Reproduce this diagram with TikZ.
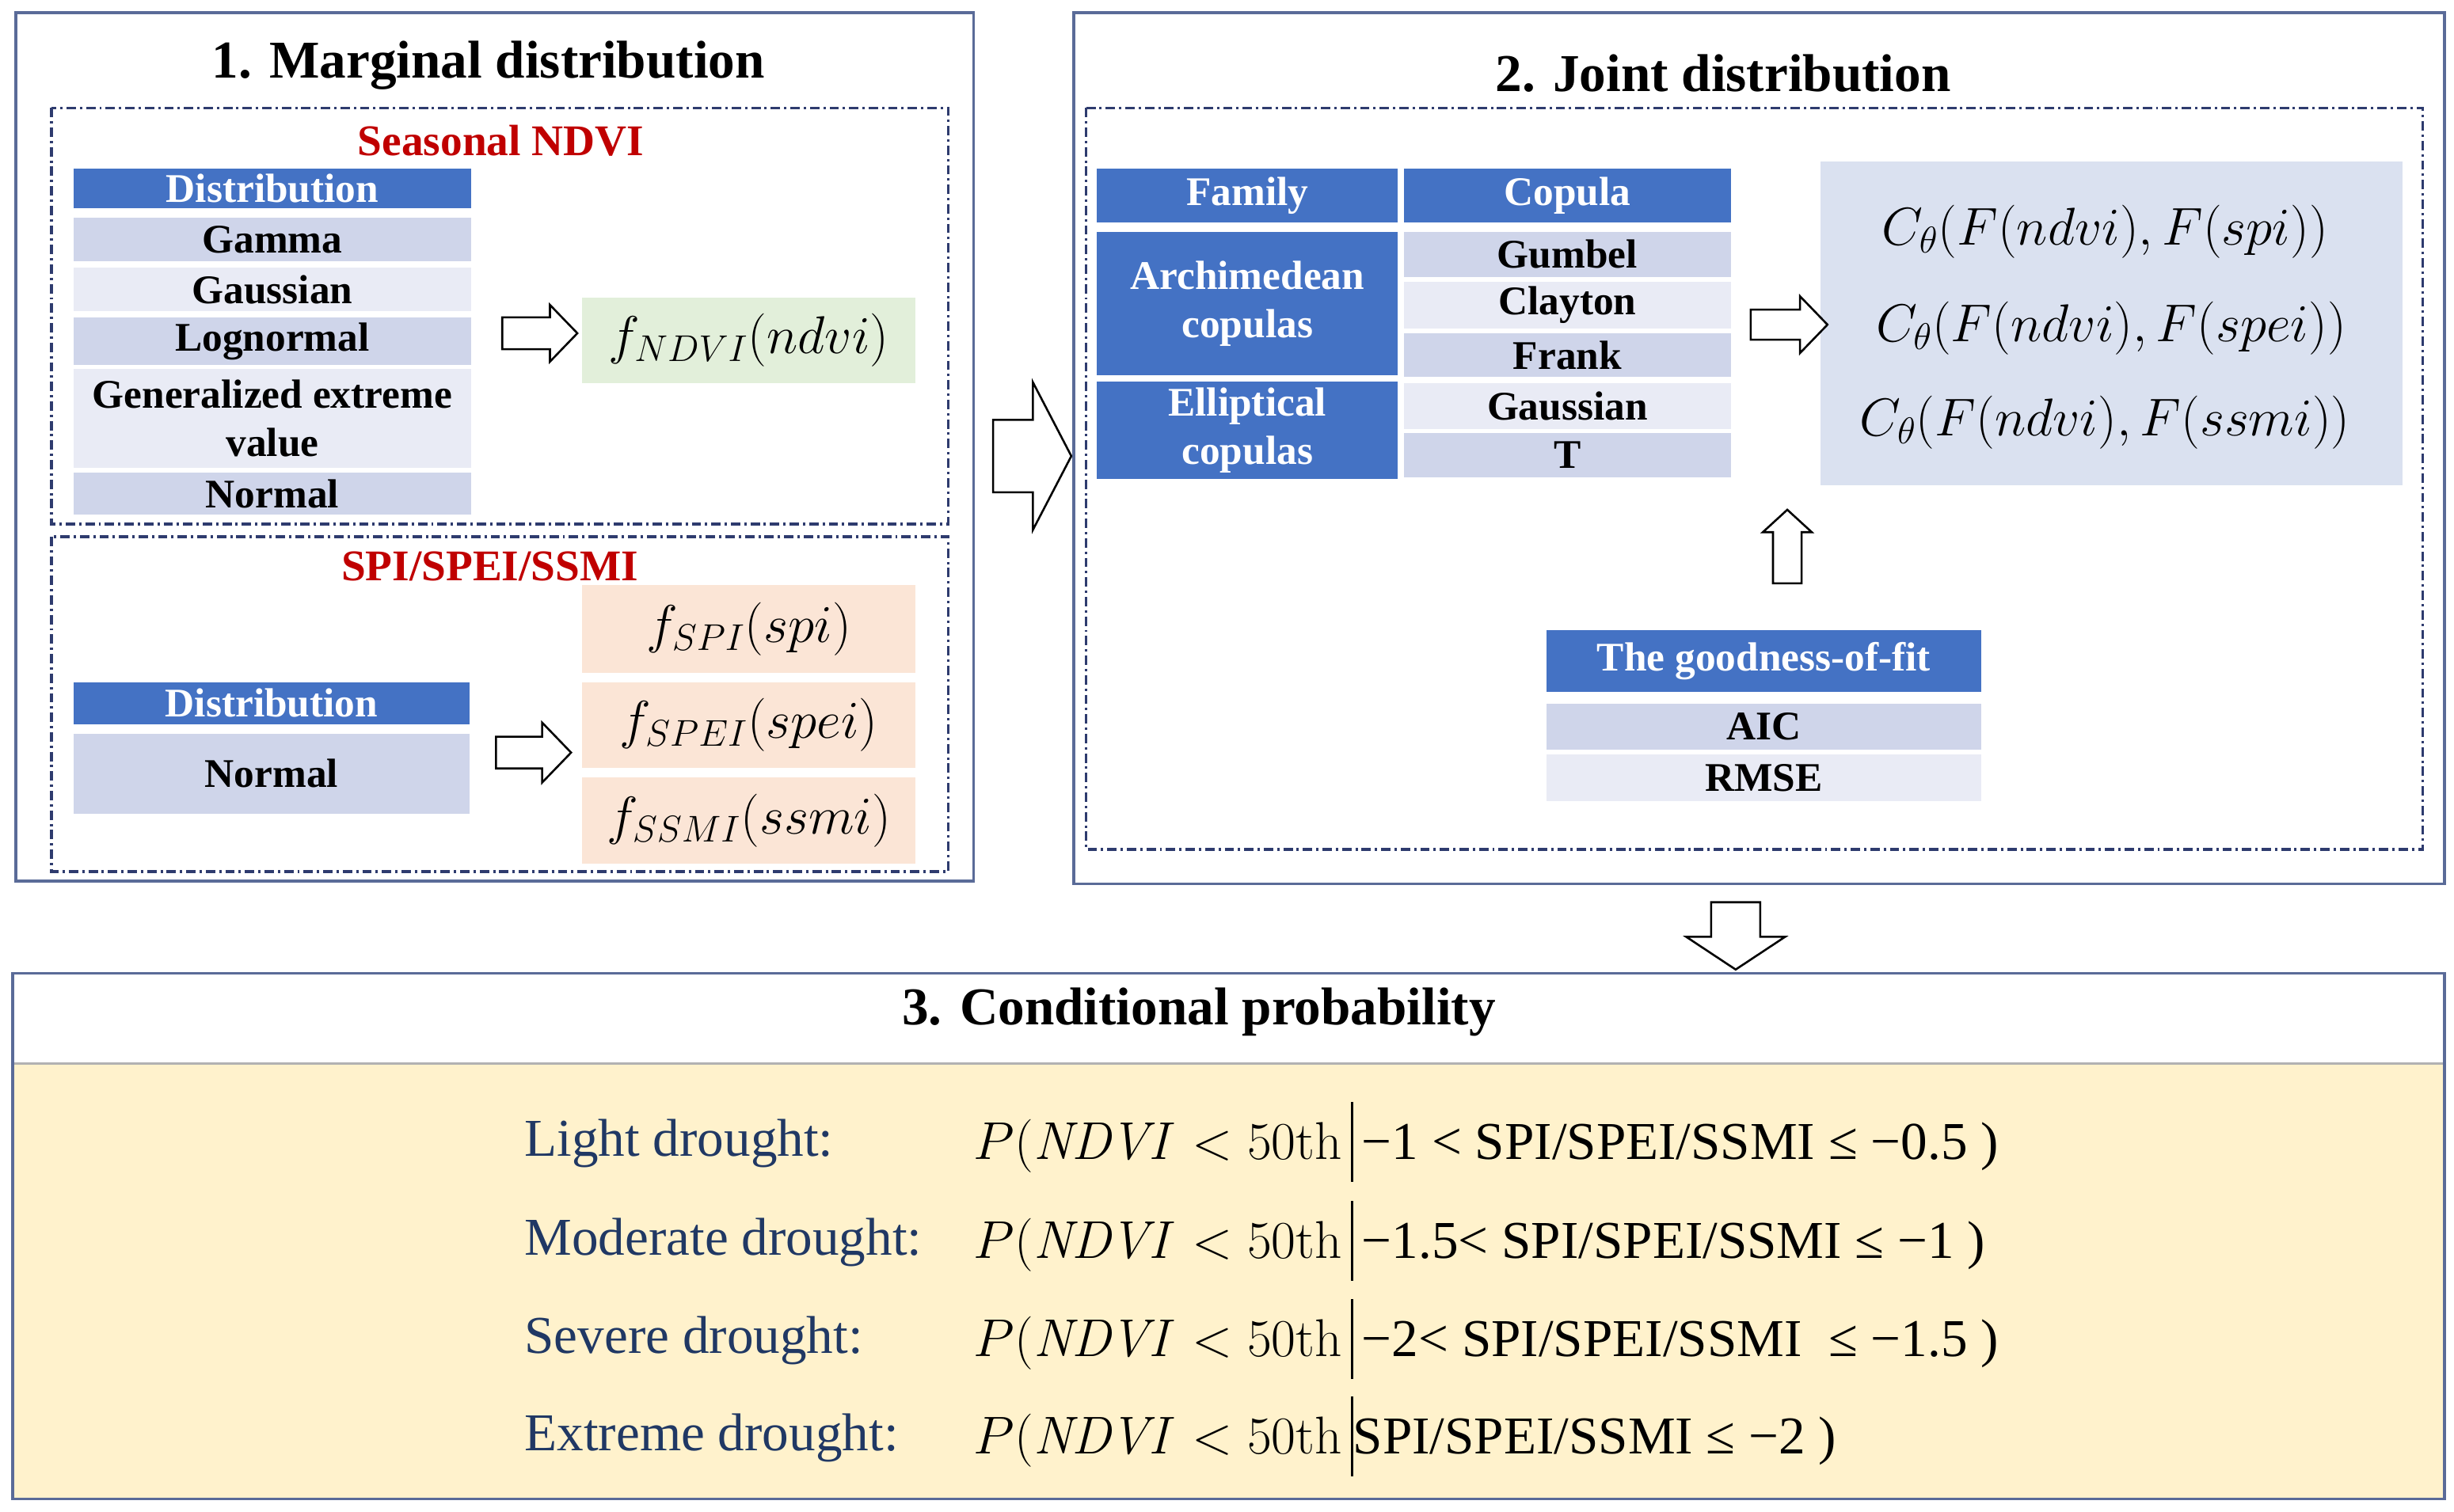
\RequirePackage{fix-cm}
\documentclass[tikz,border=0pt]{standalone}
\usepackage[no-math]{fontspec}
\setmainfont{Liberation Serif}
\usetikzlibrary{shapes.arrows,calc}
\definecolor{hdr}{HTML}{4472C4}
\definecolor{rowd}{HTML}{CFD5EA}
\definecolor{rowl}{HTML}{E9EBF5}
\definecolor{greenbox}{HTML}{E2EFDA}
\definecolor{peach}{HTML}{FBE5D6}
\definecolor{resbox}{HTML}{DAE1F0}
\definecolor{yell}{HTML}{FFF2CC}
\definecolor{panelc}{HTML}{5A6B98}
\definecolor{dashc}{HTML}{2E3B6E}
\definecolor{redt}{HTML}{C00000}
\definecolor{navyt}{HTML}{203864}
\newcommand{\vbar}{\,\rule[-0.42em]{1.3pt}{1.5em}}
\begin{document}
\begin{tikzpicture}[x=1pt,y=-1pt,
  panel/.style={draw=panelc, line width=1.8pt},
  dbox/.style={draw=dashc, line width=1.8pt, dash pattern=on 6pt off 2.5pt on 1.5pt off 2.5pt},
  title/.style={font=\fontsize{34}{40}\selectfont\bfseries},
  redtitle/.style={font=\fontsize{28}{34}\selectfont\bfseries, text=redt},
  cell/.style={rectangle, inner sep=0pt, align=center, font=\fontsize{26}{31}\selectfont\bfseries},
  hcell/.style={cell, fill=hdr, text=white},
  dcell/.style={cell, fill=rowd},
  lcell/.style={cell, fill=rowl},
  mbox/.style={rectangle, inner sep=0pt, font=\fontsize{34}{40}\selectfont},
  blk/.style n args={4}{single arrow, draw=black, fill=white, line width=1.3pt,
     inner sep=0pt, minimum height=#1, text height=#2, text depth=0pt, text width=0pt,
     single arrow head extend=#3, single arrow tip angle=#4},
  lab/.style={anchor=west, inner sep=0pt, font=\fontsize{34}{40}\selectfont, text=navyt},
  form/.style={anchor=west, inner sep=0pt, font=\fontsize{34}{40}\selectfont}
]
\useasboundingbox (0,0) rectangle (1568,966);

% ---------- Panel 1 ----------
\draw[panel] (10,8) rectangle (622,563);
\node[title] (t1) at (312,42) {1. Marginal distribution};
\draw[dbox] (33,69) rectangle (606,335);
\draw[dbox] (33,343) rectangle (606,557);
\node[redtitle] (sn) at (320,90) {Seasonal NDVI};

\node[hcell, minimum width=254pt, minimum height=25pt] (dh1) at (174,120.5) {Distribution};
\node[dcell, minimum width=254pt, minimum height=28pt] (gam) at (174,153) {Gamma};
\node[lcell, minimum width=254pt, minimum height=28pt] (gau) at (174,185) {Gaussian};
\node[dcell, minimum width=254pt, minimum height=30pt] (logn) at (174,218) {Lognormal};
\node[lcell, minimum width=254pt, minimum height=63pt] (gev) at (174,267.5) {Generalized extreme\\value};
\node[dcell, minimum width=254pt, minimum height=27pt] (nor) at (174,315.5) {Normal};

\node[mbox, fill=greenbox, minimum width=213pt, minimum height=55pt] (fndvi) at (478.5,217.5) {$f_{NDVI}(ndvi)$};
\node[blk={48pt}{19pt}{8pt}{92}] (a1) at (340,213) {};

\node[redtitle] (sp) at (313,362) {SPI/SPEI/SSMI};
\node[hcell, minimum width=253pt, minimum height=27pt] (dh2) at (173.5,449.5) {Distribution};
\node[dcell, minimum width=253pt, minimum height=51pt] (nor2) at (173.5,494.5) {Normal};

\node[mbox, fill=peach, minimum width=213pt, minimum height=56pt] (fspi) at (478.5,402) {$f_{SPI}(spi)$};
\node[mbox, fill=peach, minimum width=213pt, minimum height=55pt] (fspei) at (478.5,463.5) {$f_{SPEI}(spei)$};
\node[mbox, fill=peach, minimum width=213pt, minimum height=55pt] (fssmi) at (478.5,524.5) {$f_{SSMI}(ssmi)$};
\node[blk={48pt}{19pt}{9pt}{92}] (a2) at (336,481) {};

% big arrow between panels
\node[blk={50pt}{45pt}{24pt}{125}] (abig) at (653.5,291.5) {};

% ---------- Panel 2 ----------
\draw[panel] (686,8) rectangle (1562,565);
\node[title] (t2) at (1101,47) {2. Joint distribution};
\draw[dbox] (694,69) rectangle (1548,543);

\node[hcell, minimum width=192pt, minimum height=34pt] (fam) at (797,125) {Family};
\node[hcell, minimum width=209pt, minimum height=34pt] (cop) at (1001.5,125) {Copula};
\node[hcell, minimum width=192pt, minimum height=92pt] (arch) at (797,194) {Archimedean\\copulas};
\node[hcell, minimum width=192pt, minimum height=62pt] (ell) at (797,275) {Elliptical\\copulas};
\node[dcell, minimum width=209pt, minimum height=29pt] (gum) at (1001.5,162.5) {Gumbel};
\node[lcell, minimum width=209pt, minimum height=30pt] (cla) at (1001.5,195) {Clayton};
\node[dcell, minimum width=209pt, minimum height=28pt] (fra) at (1001.5,227) {Frank};
\node[lcell, minimum width=209pt, minimum height=29pt] (gcop) at (1001.5,259.5) {Gaussian};
\node[dcell, minimum width=209pt, minimum height=28pt] (tcop) at (1001.5,291) {T};

\node[rectangle, fill=resbox, minimum width=372pt, minimum height=207pt] (res) at (1349,206.5) {};
\node[mbox] (c1) at (1345,148) {$C_\theta(F(ndvi),F(spi))$};
\node[mbox] (c2) at (1349,210) {$C_\theta(F(ndvi),F(spei))$};
\node[mbox] (c3) at (1345,270) {$C_\theta(F(ndvi),F(ssmi))$};
\node[blk={49pt}{18pt}{8.5pt}{92}] (a3) at (1138.5,207.5) {};

\node[hcell, minimum width=278pt, minimum height=39pt] (gof) at (1127,422.5) {The goodness-of-fit};
\node[dcell, minimum width=278pt, minimum height=29pt] (aic) at (1127,464.5) {AIC};
\node[lcell, minimum width=278pt, minimum height=30pt] (rmse) at (1127,497) {RMSE};
\node[blk={47pt}{17pt}{6.5pt}{95}, rotate=90] (aup) at (1142,353.5) {};

% down arrow
\node[blk={43pt}{30pt}{16pt}{113}, rotate=-90] (adown) at (1109,593) {};

% ---------- Panel 3 ----------
\fill[yell] (8,680) rectangle (1562,958);
\draw[draw=black!30, line width=1.5pt] (8,680) -- (1562,680);
\draw[panel] (8,622) rectangle (1562,958);
\node[title] (t3) at (766,647) {3. Conditional probability};

\node[lab] (l1) at (335,731) {Light drought:};
\node[lab] (l2) at (335,794) {Moderate drought:};
\node[lab] (l3) at (335,857) {Severe drought:};
\node[lab] (l4) at (335,919) {Extreme drought:};

\node[form] (p1) at (622,730) {$P(\mathit{NDVI}<\mathrm{50th}$\vbar\,−1 < SPI/SPEI/SSMI ≤ −0.5 )};
\node[form] (p2) at (622,793) {$P(\mathit{NDVI}<\mathrm{50th}$\vbar\,−1.5< SPI/SPEI/SSMI ≤ −1 )};
\node[form] (p3) at (622,856) {$P(\mathit{NDVI}<\mathrm{50th}$\vbar\,−2< SPI/SPEI/SSMI \ ≤ −1.5 )};
\node[form] (p4) at (622,918) {$P(\mathit{NDVI}<\mathrm{50th}$\vbar SPI/SPEI/SSMI ≤ −2 )};
\end{tikzpicture}
\end{document}
